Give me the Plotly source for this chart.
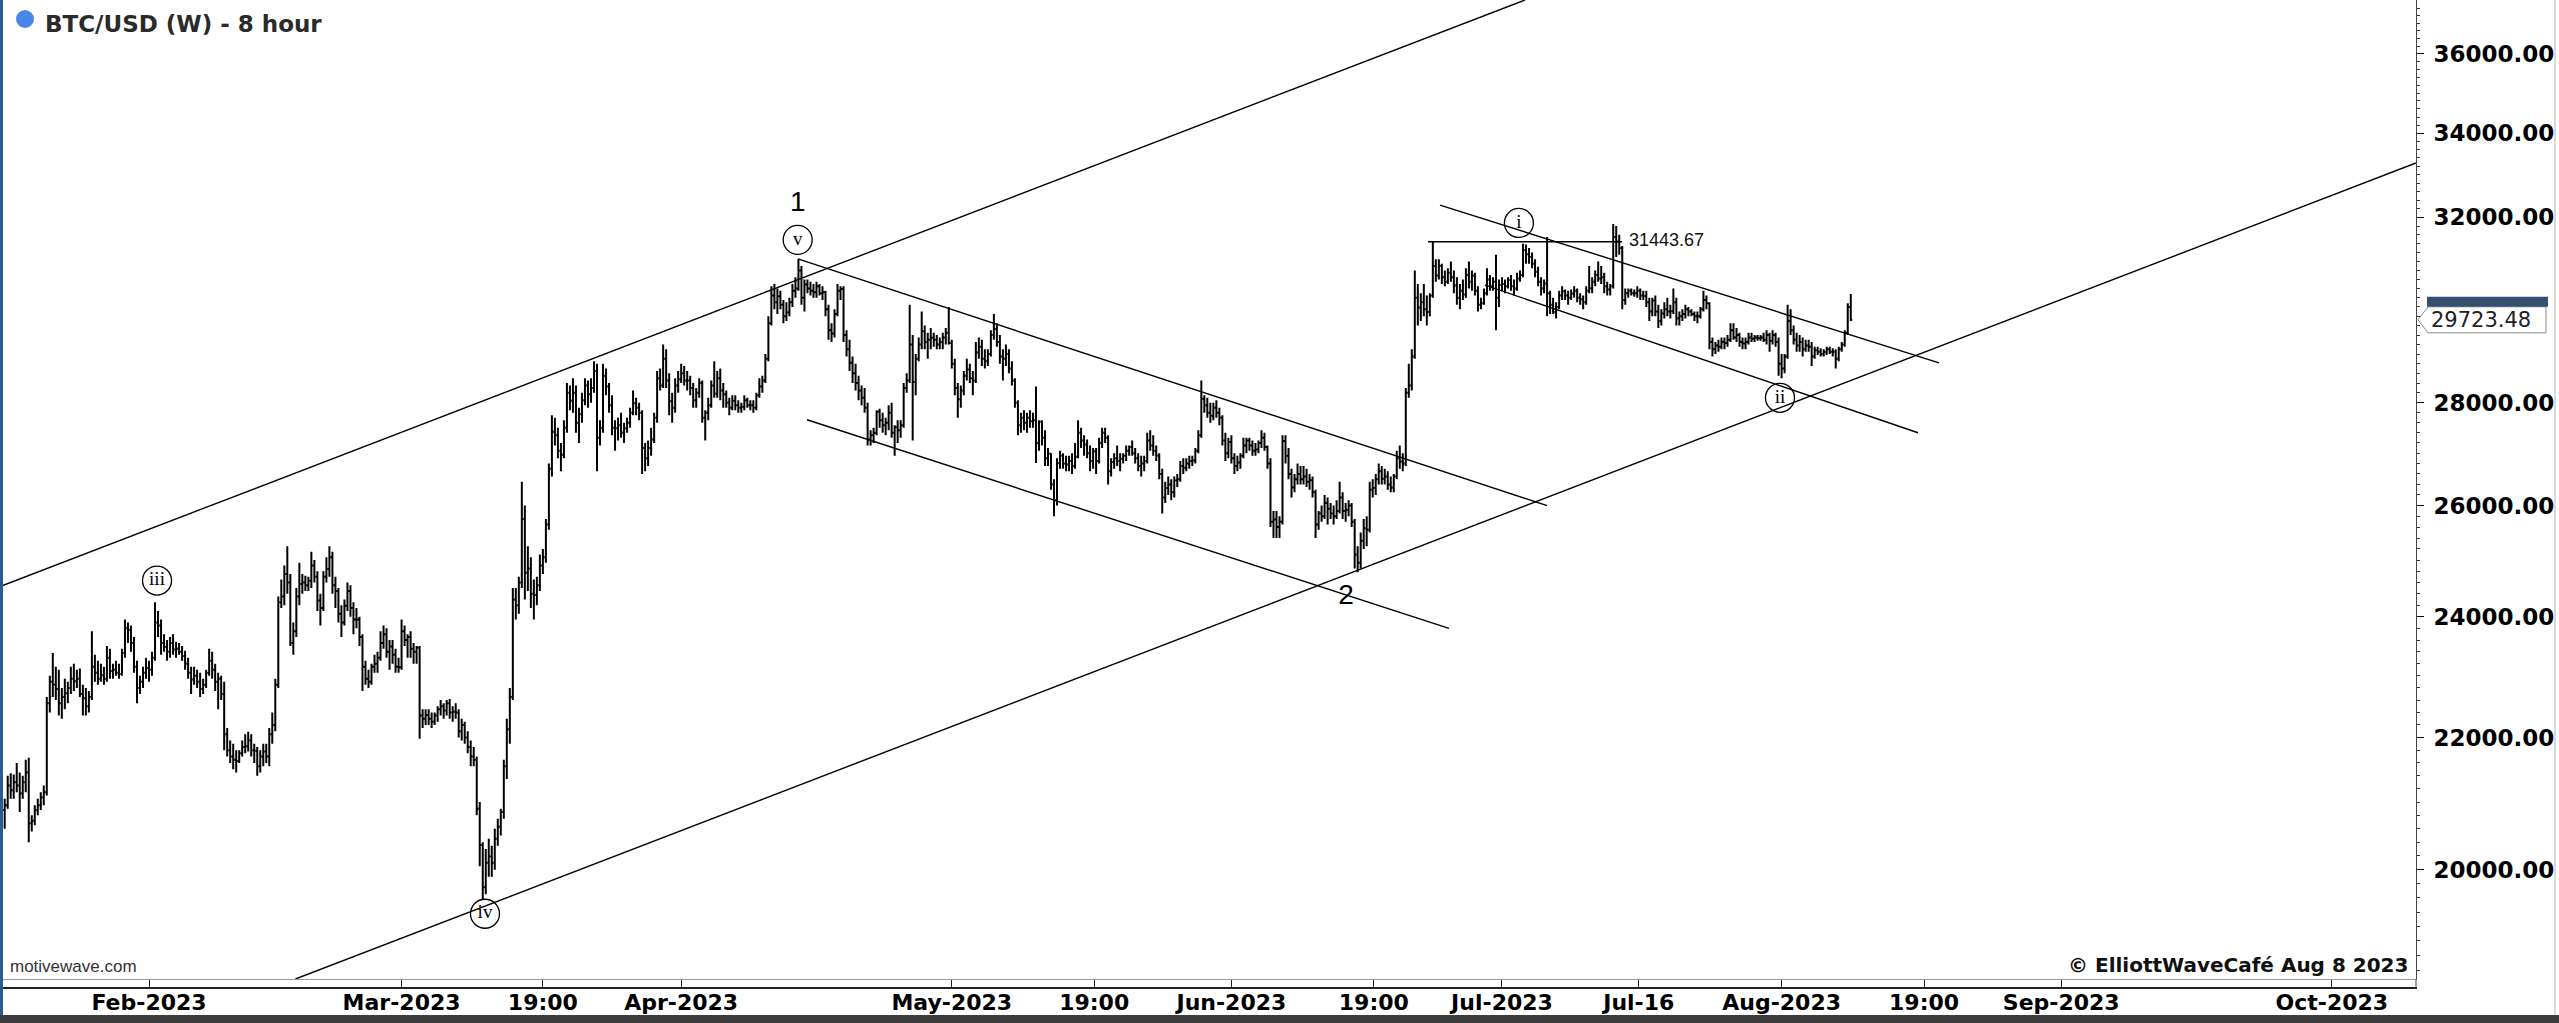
import math
import pandas as pd
import plotly.graph_objects as go

# ---------------- data (8-hour bars, BTC/USD) ----------------
START = "2023-01-16 00:00"

OPEN = [
    20880,20950,21250, 21180,21300,21250, 21130,21300,21450, 20680,20720,20880, 20950,21070,21150,
    22550,22900,22850, 22780,22550,22650, 22710,22800,22950, 22910,22950,22700, 22630,22500,22650,
    23150,23050,22950, 23010,22950,23300, 23080,23100,23050, 23030,23380,23800, 23770,23550,23150, 22800,22900,23050,
    23130,23100,23300, 23900,23850,23550, 23480,23400,23550, 23440,23450,23400, 23330,23200,23050,
    22940,23000,22900, 22780,22850,23050, 23250,23100,22900, 22950,22700,22050, 21800,21700,21650,
    21630,21750,21850, 21860,21950,21800, 21790,21550,21700, 21780,21700,22050, 22200,22850,24250,
    24350,24750,24600, 23550,23750,24350, 24570,24600,24550, 24630,24900,24700, 24280,24150,24700,
    24840,25050,24550, 24450,24050,23900, 24190,24450,24150, 23950,23950,23650, 23150,22950,22900,
    23150,23200,23300, 23550,23700,23400, 23490,23350,23150,
    23140,23750,23600, 23650,23450,23400, 23470,22350,22300, 22360,22300,22250, 22350,22450,22500,
    22430,22550,22400, 22410,22400,22100, 22200,22000,21850, 21700,21650,20900, 20360,19750,20100,
    20190,20100,20450, 20630,20850,21550, 22130,22650,24300, 24200,24600,25750, 24770,24850,24400,
    24380,24550,24900, 25050,25650,26700, 27420,27350,27050, 26970,27500,28200, 28040,28200,27600,
    27770,28050,28350, 28170,28300,28650, 27300,27500,28550, 28330,27950,27500, 27490,27550,27400,
    27490,27600,27800, 27990,27900,27800, 27100,26900,27100, 27270,27700,28500, 28350,28900,28450, 28030,27900,28350,
    28480,28600,28450, 28450,28300,28050, 28200,28400,27700, 27800,27950,28350, 28180,28500,28250,
    28170,28000,27900, 28040,27950,27900, 27920,28050,27950, 27950,27900,28150, 28330,28450,28900,
    29650,30250,30100, 30230,30050,29800, 29880,30100,30350, 30400,30800,30200, 30490,30400,30350,
    30320,30450,30300, 30320,29950,29500, 29430,29850,30350, 30390,29400,29100, 28820,28600,28400,
    28250,28100,27900, 27270,27350,27400, 27820,27650,27550, 27600,27800,27400, 27510,27450,27550,
    28300,28450,29200, 28420,28900,29200, 29480,29250,29300, 29340,29300,29200, 29250,29350,29450,
    29230,28800,28300, 28070,28250,28550, 28680,28500,28450, 29030,29150,28900, 28850,29000,29400,
    29530,29250,28950, 28900,29000,28700, 28450,28000,27550, 27700,27600,27700, 27630,27650,27200,
    27620,27300,26900, 26990,26400,26100, 26810,26950,26800, 26780,26850,26750, 26930,27400,27250,
    27170,27000,26850, 27040,26850,27200, 27400,27300,26650, 26830,26900,26850, 26890,26950,27050,
    27120,27000,26900, 26750,26800,26850, 27250,27150,27050, 26950,26600,26150, 26330,26400,26250,
    26480,26500,26750, 26720,26800,26850, 26860,27050,27350, 28080,27950,27800, 27740,27900,27800, 27700,27250,27000,
    27220,26900,26750, 26820,26950,27150, 27250,27150,27050, 27070,27200,27300, 27120,26800,25700,
    25740,25600,25700, 27240,26950,26600, 26340,26500,26600, 26500,26550,26450, 26480,26250,25650,
    25850,25800,26050, 25940,25850,25800, 25900,26150,25900, 25920,26000,25700, 25100,24950,25350,
    25580,25550,26300, 26330,26500,26650, 26510,26550,26400, 26340,26550,26900, 26840,26800,28200,
    28350,28950,30200, 29990,30100,29950, 29890,30250,30900, 30690,30900,30650, 30550,30750,30650,
    30470,30200,30350, 30270,30700,30550, 30690,30350,30050, 30080,30300,30600, 30450,30550,30200,
    30480,30500,30450, 30590,30450,30400, 30620,30700,31250, 31160,31100,30950, 30770,30550,30400,
    30510,30300,30050, 29890,30000,30250, 30340,30250,30200, 30290,30350,30200, 30170,30100,30350,
    30410,30550,30700, 30620,30650,30450, 30380,30450,31550, 31450,31300,30150, 30300,30350,30300,
    30300,30350,30250, 30240,30100,29900, 30140,29900,29700, 29860,29950,29900, 29910,30100,29750,
    29800,29850,29950, 29900,29850,29800, 29800,29950,30150, 30080,29250,29100, 29180,29150,29250,
    29230,29300,29500, 29350,29400,29250, 29220,29250,29350, 29320,29350,29330, 29350,29300,29400, 29280,29400,29250,
    28800,28700,28950, 29700,29500,29300, 29180,29250,29100, 29180,29150,28950,
    29080,29050,29000, 29040,29100,29050, 29050,28900,29100, 29200,29450,30000,
]

HIGH = [
    21050,21400,21440, 21420,21600,21450, 21400,21650,21680, 20800,20950,21050, 21150,21250,22650,
    23000,23380,23150, 23100,22800,22950, 22900,23150,23200, 23100,23120,22850, 22800,22750,23750,
    23350,23250,23200, 23150,23500,23450, 23200,23250,23200, 23450,23950,23900, 23850,23650,23250, 23000,23150,23300,
    23250,23400,24250, 24100,23950,23700, 23600,23650,23700, 23570,23550,23500, 23420,23300,23150,
    23150,23100,23050, 22950,23100,23450, 23400,23200,23050, 23000,22900,22150, 21950,21900,21800,
    21800,21950,22050, 22090,22050,21900, 21850,21800,21900, 21900,22150,22400, 22950,24350,24650,
    24900,25250,24750, 23900,24500,24950, 24750,24720,24700, 25150,25000,24800, 24400,24800,25050,
    25250,25150,24700, 24500,24200,24300, 24600,24550,24250, 24150,24000,23700, 23250,23100,23200,
    23350,23400,23750, 23850,23800,23600, 23600,23450,23300,
    23950,23850,23700, 23750,23550,23500, 23500,22450,22450, 22450,22400,22400, 22500,22600,22550,
    22600,22620,22500, 22550,22450,22300, 22250,22100,21950, 21850,21700,21000, 20400,20300,20450,
    20350,20600,20750, 20900,21650,22300, 22800,24500,24500, 24700,26450,26000, 25250,25050,24650,
    24700,25100,25200, 25750,26800,27750, 27700,27500,27200, 27650,28400,28350, 28500,28350,27900,
    28200,28500,28450, 28500,28850,28800, 27650,28800,28700, 28400,28150,27650, 27700,27800,27600,
    27700,27900,28250, 28100,28000,27850, 27200,27250,27500, 27800,28650,28700, 29200,29100,28600, 28200,28500,28650,
    28800,28750,28650, 28550,28400,28300, 28500,28450,27850, 28100,28450,28850, 28650,28700,28400,
    28250,28100,28150, 28150,28050,28000, 28150,28100,28050, 28050,28200,28500, 28550,29000,29800,
    30450,30500,30400, 30350,30150,30100, 30200,30500,30650, 31050,30900,30600, 30600,30550,30500,
    30550,30500,30450, 30350,30050,29650, 29950,30500,30450, 30450,29500,29300, 28950,28800,28550,
    28350,28300,28000, 27450,27500,27850, 27880,27800,27700, 27950,28000,27550, 27650,27650,28400,
    28600,30050,29400, 29000,29350,29900, 29600,29450,29550, 29450,29400,29350, 29450,29550,30000,
    29300,28900,28400, 28350,28650,28900, 28800,28650,29250, 29350,29300,29100, 29100,29500,29850,
    29650,29400,29100, 29200,29100,28850, 28500,28050,27800, 27850,27800,27850, 27800,28330,27650,
    27650,27450,27100, 27000,26500,26900, 27050,27000,26950, 26950,27000,27200, 27650,27500,27350,
    27270,27150,27100, 27100,27300,27500, 27500,27350,26900, 27000,27150,27000, 27000,27150,27150,
    27250,27100,27000, 26950,26950,27400, 27450,27350,27150, 27000,26700,26450, 26550,26500,26550,
    26600,26850,26900, 26900,26950,26950, 27100,27450,28450, 28150,28100,28000, 28000,28050,27900, 27750,27400,27300,
    27350,27000,26950, 27000,27300,27300, 27300,27250,27200, 27250,27450,27400, 27150,26900,25900,
    25900,25800,27350, 27350,27100,26700, 26600,26800,26750, 26750,26700,26600, 26550,26300,25900,
    26000,26200,26150, 26050,26000,26100, 26450,26250,26050, 26100,26050,25750, 25250,25500,25750,
    25800,26450,26500, 26600,26800,26750, 26700,26650,26550, 26600,27050,27150, 27000,28300,28800,
    29100,30800,30500, 30300,30500,30250, 30300,31444,31050, 31050,30950,30800, 30850,31000,30800,
    30650,30500,30600, 30850,31000,30800, 30750,30450,30200, 30400,30850,30700, 30650,31150,30600,
    30650,30600,30650, 30700,30600,30750, 30800,31400,31380, 31300,31200,31050, 30880,30650,30600,
    31550,30350,30200, 30100,30350,30450, 30380,30350,30380, 30450,30400,30300, 30250,30450,30900,
    30650,30800,31000, 30900,30750,30550, 30500,31850,31800, 31600,31350,30400, 30400,30400,30380,
    30450,30400,30350, 30350,30200,30200, 30250,30050,29950, 30100,30200,30050, 30400,30200,29900,
    29950,30050,30000, 29950,29900,29900, 30000,30350,30250, 30100,29350,29250, 29300,29350,29350,
    29400,29650,29650, 29550,29450,29350, 29350,29450,29450, 29400,29400,29400, 29450,29500,29450, 29500,29450,29350,
    29000,29000,30050, 29950,29600,29450, 29400,29350,29300, 29300,29250,29150,
    29150,29120,29100, 29150,29150,29120, 29100,29150,29250, 29500,30080,30280,
]

LOW = [
    20600,20900,21050, 21050,21150,20850, 21050,21150,20400, 20560,20650,20800, 20880,20950,21100,
    22400,22650,22600, 22350,22300,22450, 22550,22700,22750, 22800,22650,22350, 22350,22400,22600,
    22900,22850,22900, 22850,22900,22950, 22950,23000,22950, 23000,23300,23550, 23400,23050,22550, 22700,22800,22950,
    22900,23000,23250, 23650,23350,23400, 23250,23300,23350, 23300,23350,23250, 23100,22950,22700,
    22850,22800,22650, 22700,22800,23000, 22950,22750,22450, 22600,21800,21700, 21600,21500,21450,
    21600,21700,21750, 21780,21700,21600, 21400,21450,21550, 21600,21550,21900, 22100,22800,24150,
    24200,24400,23500, 23350,23650,24200, 24400,24450,24450, 24500,24600,24100, 23850,24100,24600,
    24700,24400,24150, 23900,23650,23850, 24100,24000,23700, 23800,23500,22750, 22850,22800,22850,
    23050,23050,23250, 23450,23300,23100, 23200,23050,23050,
    23100,23500,23300, 23300,23200,23200, 21980,22150,22200, 22200,22150,22200, 22250,22350,22300,
    22350,22300,22250, 22300,22000,21950, 21900,21750,21550, 21550,20800,20050, 19570,19650,19900,
    19900,20000,20350, 20500,20750,21350, 21900,22600,23950, 24050,24500,24300, 24450,24150,23950,
    24200,24450,24750, 24950,25550,26550, 27150,26900,26650, 26900,27400,27850, 27800,27400,27200,
    27600,27950,27900, 28000,28200,26650, 27150,27400,28150, 27800,27350,27050, 27250,27300,27200,
    27400,27500,27750, 27750,27650,26600, 26650,26750,26950, 27200,27600,28250, 28300,28300,27750, 27600,27800,28200,
    28400,28350,28250, 28150,27900,27900, 28100,27600,27250, 27650,27900,28100, 28100,28050,27900,
    27900,27750,27850, 27850,27800,27800, 27850,27900,27850, 27800,27850,28100, 28200,28400,28850,
    29600,29950,29850, 29950,29650,29700, 29800,30000,30200, 30350,30050,29900, 30300,30250,30200,
    30200,30250,30150, 29800,29300,29250, 29350,29800,30150, 29250,28950,28650, 28400,28250,28050,
    27950,27800,27150, 27150,27200,27350, 27500,27400,27350, 27450,27300,26950, 27200,27300,27500,
    28200,28400,27250, 28150,28850,29100, 29100,28900,29100, 29150,29100,29100, 29100,29200,29200,
    28700,28150,27700, 27900,28150,28450, 28400,28150,28400, 28900,28750,28700, 28750,28950,29300,
    29150,28800,28450, 28750,28600,28350, 27900,27350,27400, 27450,27400,27500, 27500,26810,27050,
    27150,26750,26750, 26300,25800,26000, 26700,26700,26650, 26650,26600,26700, 26900,27100,26950,
    26900,26650,26700, 26600,26800,27100, 27200,26400,26550, 26700,26750,26650, 26800,26850,26950,
    26950,26800,26650, 26550,26650,26800, 27050,26950,26850, 26500,25850,26050, 26200,26100,26150,
    26350,26450,26600, 26650,26700,26750, 26800,27000,27300, 27800,27700,27600, 27650,27700,27550, 27150,26850,26900,
    26800,26600,26650, 26700,26900,27000, 27050,26950,26950, 27000,27100,27050, 26700,25600,25400,
    25400,25400,25650, 26800,26500,26150, 26250,26400,26400, 26400,26350,26300, 26150,25400,25550,
    25700,25750,25650, 25750,25650,25750, 25850,25750,25700, 25800,25600,24850, 24780,24850,25200,
    25250,25500,26150, 26200,26400,26400, 26400,26300,26250, 26250,26500,26700, 26650,26750,28100,
    28250,28900,29600, 29700,29800,29600, 29800,30200,30550, 30600,30500,30450, 30500,30550,30300,
    30050,29950,30150, 30200,30400,30350, 30250,29900,29950, 30050,30250,30350, 30350,29500,30000,
    30350,30300,30400, 30350,30250,30350, 30550,30650,30950, 30950,30850,30650, 30450,30250,30300,
    29800,29850,29850, 29750,29950,30150, 30150,30050,30150, 30200,30100,30050, 29950,30050,30300,
    30300,30450,30550, 30500,30300,30250, 30250,30400,31100, 31150,29950,30050, 30200,30250,30220,
    30200,30150,30150, 30000,29700,29800, 29800,29550,29600, 29750,29800,29750, 29850,29600,29600,
    29700,29750,29800, 29800,29700,29650, 29750,29900,29950, 29100,28950,29000, 29050,29100,29100,
    29150,29250,29300, 29250,29150,29100, 29100,29200,29250, 29250,29280,29280, 29250,29200,29050, 29200,29150,28550,
    28500,28600,28900, 29400,29200,29050, 29050,28950,29050, 29050,28750,28900,
    28980,28950,28950, 28980,29000,28950, 28700,28850,29050, 29150,29400,29700,
]

CLOSE = [
    20950,21250,21180, 21300,21250,21130, 21300,21450,20680, 20720,20880,20950, 21070,21150,22550,
    22900,22850,22780, 22550,22650,22710, 22800,22950,22910, 22950,22700,22630, 22500,22650,23150,
    23050,22950,23010, 22950,23300,23080, 23100,23050,23030, 23380,23800,23770, 23550,23150,22800, 22900,23050,23130,
    23100,23300,23900, 23850,23550,23480, 23400,23550,23440, 23450,23400,23330, 23200,23050,22940,
    23000,22900,22780, 22850,23050,23250, 23100,22900,22950, 22700,22050,21800, 21700,21650,21630,
    21750,21850,21860, 21950,21800,21790, 21550,21700,21780, 21700,22050,22200, 22850,24250,24350,
    24750,24600,23550, 23750,24350,24570, 24600,24550,24630, 24900,24700,24280, 24150,24700,24840,
    25050,24550,24450, 24050,23900,24190, 24450,24150,23950, 23950,23650,23150, 22950,22900,23150,
    23200,23300,23550, 23700,23400,23490, 23350,23150,23140,
    23750,23600,23650, 23450,23400,23470, 22350,22300,22360, 22300,22250,22350, 22450,22500,22430,
    22550,22400,22410, 22400,22100,22200, 22000,21850,21700, 21650,20900,20360, 19750,20100,20190,
    20100,20450,20630, 20850,21550,22130, 22650,24300,24200, 24600,25750,24770, 24850,24400,24380,
    24550,24900,25050, 25650,26700,27420, 27350,27050,26970, 27500,28200,28040, 28200,27600,27770,
    28050,28350,28170, 28300,28650,27300, 27500,28550,28330, 27950,27500,27490, 27550,27400,27490,
    27600,27800,27990, 27900,27800,27100, 26900,27100,27270, 27700,28500,28350, 28900,28450,28030, 27900,28350,28480,
    28600,28450,28450, 28300,28050,28200, 28400,27700,27800, 27950,28350,28180, 28500,28250,28170,
    28000,27900,28040, 27950,27900,27920, 28050,27950,27950, 27900,28150,28330, 28450,28900,29650,
    30250,30100,30230, 30050,29800,29880, 30100,30350,30400, 30800,30200,30490, 30400,30350,30320,
    30450,30300,30320, 29950,29500,29430, 29850,30350,30390, 29400,29100,28820, 28600,28400,28250,
    28100,27900,27270, 27350,27400,27820, 27650,27550,27600, 27800,27400,27510, 27450,27550,28300,
    28450,29200,28420, 28900,29200,29480, 29250,29300,29340, 29300,29200,29250, 29350,29450,29230,
    28800,28300,28070, 28250,28550,28680, 28500,28450,29030, 29150,28900,28850, 29000,29400,29530,
    29250,28950,28900, 29000,28700,28450, 28000,27550,27700, 27600,27700,27630, 27650,27200,27620,
    27300,26900,26990, 26400,26100,26810, 26950,26800,26780, 26850,26750,26930, 27400,27250,27170,
    27000,26850,27040, 26850,27200,27400, 27300,26650,26830, 26900,26850,26890, 26950,27050,27120,
    27000,26900,26750, 26800,26850,27250, 27150,27050,26950, 26600,26150,26330, 26400,26250,26480,
    26500,26750,26720, 26800,26850,26860, 27050,27350,28080, 27950,27800,27740, 27900,27800,27700, 27250,27000,27220,
    26900,26750,26820, 26950,27150,27250, 27150,27050,27070, 27200,27300,27120, 26800,25700,25740,
    25600,25700,27240, 26950,26600,26340, 26500,26600,26500, 26550,26450,26480, 26250,25650,25850,
    25800,26050,25940, 25850,25800,25900, 26150,25900,25920, 26000,25700,25100, 24950,25350,25580,
    25550,26300,26330, 26500,26650,26510, 26550,26400,26340, 26550,26900,26840, 26800,28200,28350,
    28950,30200,29990, 30100,29950,29890, 30250,30900,30690, 30900,30650,30550, 30750,30650,30470,
    30200,30350,30270, 30700,30550,30690, 30350,30050,30080, 30300,30600,30450, 30550,30200,30480,
    30500,30450,30590, 30450,30400,30620, 30700,31250,31160, 31100,30950,30770, 30550,30400,30510,
    30300,30050,29890, 30000,30250,30340, 30250,30200,30290, 30350,30200,30170, 30100,30350,30410,
    30550,30700,30620, 30650,30450,30380, 30450,31550,31450, 31300,30150,30300, 30350,30300,30300,
    30350,30250,30240, 30100,29900,30140, 29900,29700,29860, 29950,29900,29910, 30100,29750,29800,
    29850,29950,29900, 29850,29800,29800, 29950,30150,30080, 29250,29100,29180, 29150,29250,29230,
    29300,29500,29350, 29400,29250,29220, 29250,29350,29320, 29350,29330,29350, 29300,29400,29280, 29400,29250,28800,
    28700,28950,29700, 29500,29300,29180, 29250,29100,29180, 29150,28950,29080,
    29050,29000,29040, 29100,29050,29050, 28900,29100,29200, 29450,30000,29723.48,
]

# x-axis ticks
TICK_DATES = ["2023-02-01", "2023-03-01", "2023-03-16 16:00", "2023-04-01", "2023-05-01",
              "2023-05-16 19:00", "2023-06-01", "2023-06-16 19:00", "2023-07-01", "2023-07-16 04:00",
              "2023-08-01", "2023-08-16 19:00", "2023-09-01", "2023-10-01"]
TICK_TEXT = ["Feb-2023", "Mar-2023", "19:00", "Apr-2023", "May-2023", "19:00", "Jun-2023",
             "19:00", "Jul-2023", "Jul-16", "Aug-2023", "19:00", "Sep-2023", "Oct-2023"]
Y_TICKS = [20000, 22000, 24000, 26000, 28000, 30000, 32000, 34000, 36000]
Y_HIDDEN = [30000]   # label covered by the last-price tag

# trend lines (start date, start price, end date, end price)
TL_X0 = ["2023-01-15 11:30", "2023-02-17 05:45", "2023-04-13 22:48", "2023-04-14 22:48", "2023-06-24 03:00", "2023-06-29 02:30"]
TL_Y0 = [24526, 18486, 31058, 27658, 32285, 30476]
TL_X1 = ["2023-07-03 13:12", "2023-10-10 08:00", "2023-07-06 00:00", "2023-06-25 03:00", "2023-08-18 10:50", "2023-08-16 03:00"]
TL_Y1 = [37426, 33279, 25999, 23798, 28817, 27401]

# horizontal level
LEVEL = 31443.67
LEVEL_X = ["2023-06-22 19:12", "2023-07-14 07:12"]
LEVEL_TEXT_X = "2023-07-15 02:00"

# wave labels
WAVE_TEXT = ["1", "2"]
WAVE_X = ["2023-04-13 22:00", "2023-06-13 17:00"]
WAVE_Y = [32308, 24349]
CIRC_TEXT = ["iii", "iv", "v", "i", "ii"]
CIRC_X = ["2023-02-01 21:20", "2023-03-10 06:00", "2023-04-13 22:00", "2023-07-02 21:00", "2023-07-31 19:40"]
CIRC_Y = [24633, 19376, 31486, 31873, 28100]

assert len(OPEN) == len(HIGH) == len(LOW) == len(CLOSE)

# ---------------- layout geometry ----------------
W, H = 2559, 1023
MR, MB = 143, 44
PW, PH = W - MR, H - MB
X_RANGE = ["2023-01-15 11:30", "2023-10-10 08:00"]
Y_LO, Y_HI = math.log10(18486), math.log10(37426)


def px(xp):
    return xp / PW


def py(yp):
    return (PH - yp) / PH


def price_to_paper(p):
    return (math.log10(p) - Y_LO) / (Y_HI - Y_LO)


dates = pd.date_range(START, periods=len(CLOSE), freq="8h")

fig = go.Figure()
fig.add_trace(go.Ohlc(
    x=dates, open=OPEN, high=HIGH, low=LOW, close=CLOSE,
    increasing=dict(line=dict(color="black", width=2)),
    decreasing=dict(line=dict(color="black", width=2)),
    tickwidth=0.5, hoverinfo="skip", showlegend=False,
))

for x0, y0, x1, y1 in zip(TL_X0, TL_Y0, TL_X1, TL_Y1):
    fig.add_trace(go.Scatter(x=[x0, x1], y=[y0, y1], mode="lines",
                             line=dict(color="black", width=1.4),
                             hoverinfo="skip", showlegend=False))

fig.add_trace(go.Scatter(x=LEVEL_X, y=[LEVEL, LEVEL], mode="lines",
                         line=dict(color="black", width=1.4), hoverinfo="skip", showlegend=False))
fig.add_trace(go.Scatter(x=[LEVEL_TEXT_X], y=[LEVEL], mode="text", text=[f"{LEVEL:.2f}"],
                         textposition="middle right",
                         textfont=dict(family="Liberation Sans", size=18, color="#111"),
                         hoverinfo="skip", showlegend=False))

fig.add_trace(go.Scatter(x=CIRC_X, y=CIRC_Y, mode="markers+text", text=CIRC_TEXT,
                         textposition="middle center",
                         marker=dict(symbol="circle-open", size=29, color="black",
                                     line=dict(width=1.3, color="black")),
                         textfont=dict(family="Liberation Serif", size=19, color="black"),
                         hoverinfo="skip", showlegend=False))
fig.add_trace(go.Scatter(x=WAVE_X, y=WAVE_Y, mode="text", text=WAVE_TEXT,
                         textposition="middle center",
                         textfont=dict(family="Liberation Sans", size=28, color="black"),
                         hoverinfo="skip", showlegend=False))

# price tag (pixel y of last close)
tag_y = PH - price_to_paper(CLOSE[-1]) * PH
shapes = [
    # left blue frame strip
    dict(type="rect", xref="paper", yref="paper", x0=0, x1=px(3), y0=py(1015), y1=py(0),
         fillcolor="#2c5b8f", line=dict(width=0), layer="above"),
    # bottom dark band
    dict(type="rect", xref="paper", yref="paper", x0=0, x1=px(W), y0=py(1023), y1=py(1015),
         fillcolor="#3c3c3c", line=dict(width=0), layer="below"),
    # right border line
    dict(type="line", xref="paper", yref="paper", x0=px(2555), x1=px(2555), y0=py(1015), y1=py(0),
         line=dict(color="#b5b5b5", width=1)),
    # bottom of tick strip
    dict(type="line", xref="paper", yref="paper", x0=px(3), x1=px(2417), y0=py(988), y1=py(988),
         line=dict(color="#222", width=2)),
    # y axis line extension through tick strip
    dict(type="line", xref="paper", yref="paper", x0=1, x1=1, y0=py(988), y1=py(979),
         line=dict(color="#444", width=1)),
    # title dot
    dict(type="circle", xref="paper", yref="paper", x0=px(16), x1=px(34), y0=py(28), y1=py(10),
         fillcolor="#4a86e8", line=dict(width=0)),
    # price tag body
    dict(type="path", xref="paper", yref="paper",
         path=(f"M {px(2418)},{py(tag_y)} L {px(2428)},{py(tag_y - 13)} L {px(2546)},{py(tag_y - 13)} "
               f"L {px(2546)},{py(tag_y + 13)} L {px(2428)},{py(tag_y + 13)} Z"),
         fillcolor="white", line=dict(color="#8a8a8a", width=1)),
    # price tag top bar
    dict(type="rect", xref="paper", yref="paper", x0=px(2427), x1=px(2548),
         y0=py(tag_y - 13), y1=py(tag_y - 23), fillcolor="#34506f", line=dict(width=0)),
]

annotations = [
    dict(xref="paper", yref="paper", x=px(43), y=py(24), xanchor="left", yanchor="middle",
         text="BTC/USD (W) - 8 hour", showarrow=False,
         font=dict(family="DejaVu Sans", size=23, color="#2a2a2a", weight="bold")),
    dict(xref="paper", yref="paper", x=px(8), y=py(966), xanchor="left", yanchor="middle",
         text="motivewave.com", showarrow=False,
         font=dict(family="Liberation Sans", size=17, color="#333")),
    dict(xref="paper", yref="paper", x=px(2410), y=py(965), xanchor="right", yanchor="middle",
         text="© ElliottWaveCafé Aug 8 2023", showarrow=False,
         font=dict(family="DejaVu Sans", size=20, color="#111", weight="bold")),
    dict(xref="paper", yref="paper", x=px(2429), y=py(tag_y), xanchor="left", yanchor="middle",
         text=f"{CLOSE[-1]:.2f}", showarrow=False,
         font=dict(family="DejaVu Sans", size=21, color="#222")),
]

minor_vals = list(range(18600, 37400, 200))

fig.update_layout(
    width=W, height=H,
    margin=dict(l=0, r=MR, t=0, b=MB, pad=0),
    paper_bgcolor="white", plot_bgcolor="white",
    showlegend=False,
    shapes=shapes, annotations=annotations,
    xaxis=dict(
        type="date", range=X_RANGE, rangeslider=dict(visible=False),
        showgrid=False, zeroline=False, showline=True, linecolor="#9a9a9a", linewidth=1,
        ticks="outside", ticklen=9, tickwidth=1, tickcolor="#222",
        tickmode="array", tickvals=TICK_DATES, ticktext=TICK_TEXT,
        tickfont=dict(family="DejaVu Sans", size=22, color="black", weight="bold"),
        ticklabelstandoff=-5, fixedrange=True,
    ),
    yaxis=dict(
        type="log", range=[Y_LO, Y_HI], side="right",
        showgrid=False, zeroline=False, showline=True, linecolor="#444", linewidth=1,
        ticks="outside", ticklen=7, tickwidth=1, tickcolor="black",
        tickmode="array", tickvals=Y_TICKS,
        ticktext=["" if v in Y_HIDDEN else f"{v:.2f}" for v in Y_TICKS],
        tickfont=dict(family="DejaVu Sans", size=23, color="black", weight="bold"),
        ticklabelstandoff=5, fixedrange=True,
        minor=dict(tickmode="array", tickvals=minor_vals, ticks="outside", ticklen=3,
                   tickcolor="#333", tickwidth=1),
    ),
)

fig.write_html("out.html", config={"displayModeBar": False},
               post_script="document.body.style.margin='0px';document.body.style.overflow='hidden';")
